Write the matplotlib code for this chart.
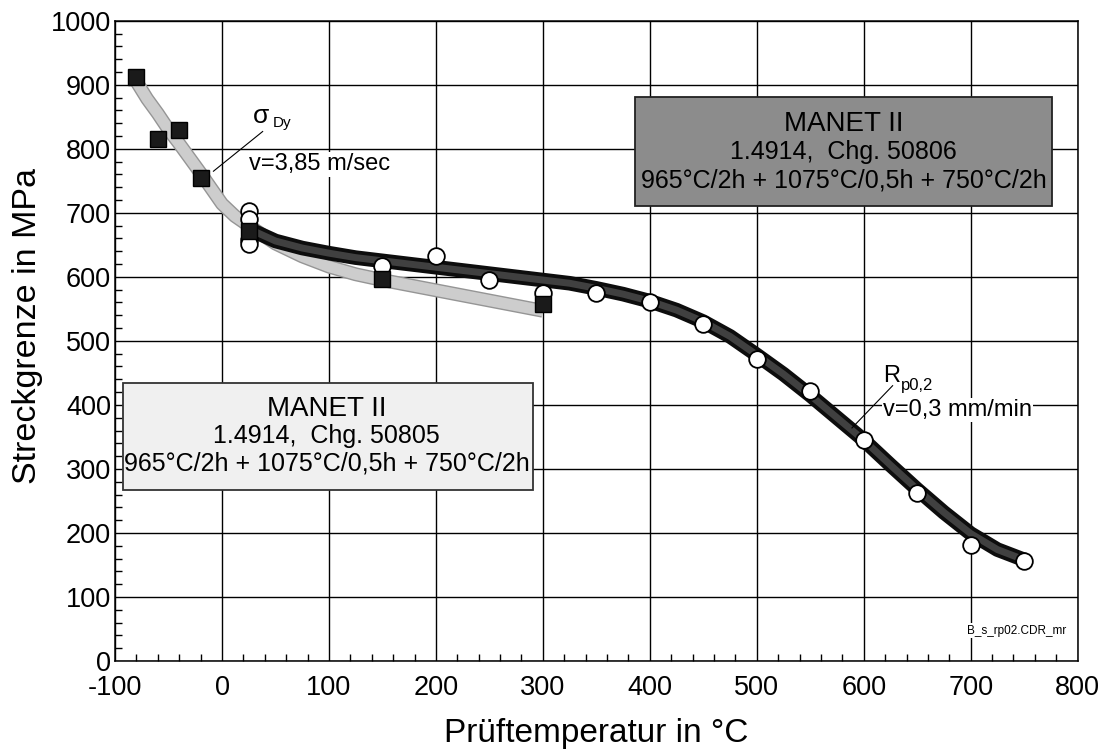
import numpy as np
import matplotlib.pyplot as plt
from matplotlib.ticker import MultipleLocator

plt.rcParams['font.family'] = ['Liberation Sans', 'DejaVu Sans']
plt.rcParams['axes.unicode_minus'] = False

# sigma_Dy, dynamic tests (squares)
dyn_T = [-80, -60, -40, -20, 25, 150, 300]
dyn_R = [912, 816, 829, 755, 672, 597, 557]

# Rp0,2, static tests (circles)
stat_T = [25, 25, 25, 25, 150, 200, 250, 300, 350, 400, 450, 500, 550, 600, 650, 700, 750]
stat_R = [703, 690, 657, 652, 617, 632, 595, 575, 575, 560, 527, 472, 421, 345, 262, 181, 156]

# fitted trend bands
fit_dyn_T = [-80, -70, -60, -50, -40, -30, -20, -10, 0, 12, 25, 50, 75, 100, 125, 150, 175, 200, 225, 250, 275, 300]
fit_dyn_R = [905, 878, 855, 830, 808, 785, 762, 738, 714, 695, 680, 652, 632, 616, 604, 595, 587, 579, 571, 563, 555, 547]
fit_stat_T = [25, 50, 75, 100, 125, 150, 175, 200, 225, 250, 275, 300, 325, 350, 375, 400, 425, 450, 475, 500,
              525, 550, 575, 600, 625, 650, 675, 700, 725, 750]
fit_stat_R = [675, 656, 645, 637, 630, 625, 620, 615, 610, 605, 600, 595, 590, 582, 573, 562, 548, 530, 507, 478,
              448, 415, 380, 345, 306, 268, 232, 199, 174, 158]

box_lines_1 = ['MANET II', '1.4914,  Chg. 50805', '965°C/2h + 1075°C/0,5h + 750°C/2h']
box_lines_2 = ['MANET II', '1.4914,  Chg. 50806', '965°C/2h + 1075°C/0,5h + 750°C/2h']

fig = plt.figure(figsize=(11.02, 7.49), dpi=100)
ax = fig.add_axes([0.1044, 0.1175, 0.8735, 0.8548])
ax.set_xlim(-100, 800)
ax.set_ylim(0, 1000)

ax.xaxis.set_major_locator(MultipleLocator(100))
ax.xaxis.set_minor_locator(MultipleLocator(20))
ax.yaxis.set_major_locator(MultipleLocator(100))
ax.yaxis.set_minor_locator(MultipleLocator(20))
ax.grid(True, which='major', color='black', lw=1.0)
ax.tick_params(which='both', direction='in', top=False, right=False, labelsize=19.5)
ax.tick_params(axis='x', pad=10)
ax.tick_params(axis='y', pad=3)
ax.tick_params(which='major', length=0)
ax.tick_params(which='minor', length=5, width=1)
for s in ax.spines.values():
    s.set_color('black')
    s.set_linewidth(1.1)

ax.set_xlabel('Prüftemperatur in °C', fontsize=24, labelpad=12)
ax.set_ylabel('Streckgrenze in MPa', fontsize=24.5)
ax.yaxis.set_label_coords(-0.075, 0.523)

# bands
ax.plot(fit_dyn_T, fit_dyn_R, color='#959595', lw=10, solid_capstyle='butt', zorder=3)
ax.plot(fit_dyn_T, fit_dyn_R, color='#cdcdcd', lw=8, solid_capstyle='butt', zorder=3)
ax.plot(fit_stat_T, fit_stat_R, color='#0d0d0d', lw=10.5, solid_capstyle='butt', zorder=4)
ax.plot(fit_stat_T, fit_stat_R, color='#404040', lw=5, solid_capstyle='butt', zorder=4)

ax.plot(dyn_T, dyn_R, 's', ms=12, mfc='#1a1a1a', mec='black', mew=1, zorder=6)
ax.plot(stat_T, stat_R, 'o', ms=12, mfc='white', mec='black', mew=1.3, zorder=5)

# annotations
wbg = dict(facecolor='white', edgecolor='none', pad=1)
ax.plot([-8, 38], [765, 827], color='black', lw=0.8, zorder=5)
ax.text(29, 852, 'σ', fontsize=19, va='center', ha='left')
ax.text(47, 840, 'Dy', fontsize=11, va='center', ha='left')
ax.text(25, 776, 'v=3,85 m/sec', fontsize=17, va='center', ha='left', bbox=wbg)
ax.plot([589, 627], [364, 430], color='black', lw=0.8, zorder=5)
ax.text(618, 445, 'R', fontsize=17, va='center', ha='left')
ax.text(635, 430, 'p0,2', fontsize=12, va='center', ha='left')
ax.text(618, 392, 'v=0,3 mm/min', fontsize=17, va='center', ha='left', bbox=wbg)
ax.text(697, 47, 'B_s_rp02.CDR_mr', fontsize=8.5, va='center', ha='left', bbox=wbg, zorder=5)

# material boxes
ax.add_patch(plt.Rectangle((-92.5, 267), 383, 167, facecolor='#f0f0f0', edgecolor='#333333', lw=1.3, zorder=7))
for txt, y, fs in zip(box_lines_1, [393, 351, 309], [20, 18, 18]):
    ax.text(98, y, txt, fontsize=fs, ha='center', va='center', zorder=8)

ax.add_patch(plt.Rectangle((386, 711), 390, 170, facecolor='#8c8c8c', edgecolor='#222222', lw=1.3, zorder=7))
for txt, y, fs in zip(box_lines_2, [838, 795, 750], [20, 18, 18]):
    ax.text(581, y, txt, fontsize=fs, ha='center', va='center', zorder=8)

fig.savefig('out.png', dpi=100)
